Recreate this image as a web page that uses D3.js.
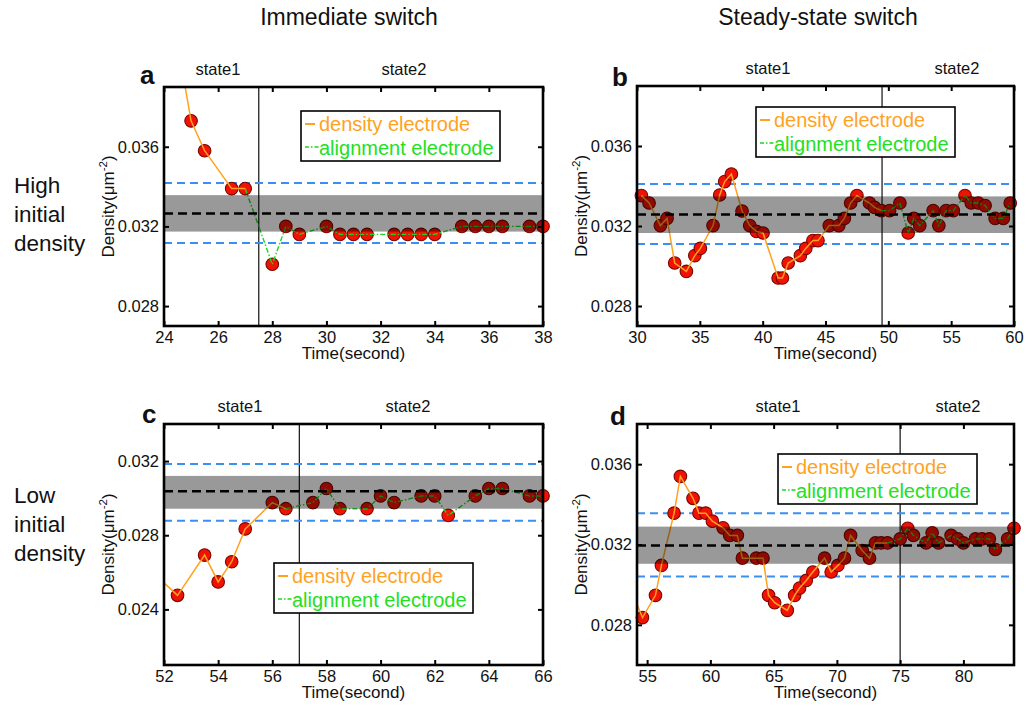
<!DOCTYPE html>
<html><head><meta charset="utf-8">
<script src="https://cdn.jsdelivr.net/npm/d3@7"></script>
<style>
body{margin:0;background:#fff}
svg{display:block;font-family:"Liberation Sans",Arial,Helvetica,sans-serif}
</style>
</head><body>
<svg id="fig" width="1029" height="707"></svg>
<script>
// ---------- text ----------
const colTitles = ["Immediate switch", "Steady-state switch"];
const rowTitles = [["High", "initial", "density"], ["Low", "initial", "density"]];
const stateLabels = ["state1", "state2"];
const legendLabels = ["density electrode", "alignment electrode"];
const xAxisTitle = "Time(second)";

// ---------- panel a: high density, immediate switch ----------
const aTime1 = [24.5, 25, 25.5, 26.5, 27];
const aDens1 = [0.0412, 0.0373, 0.0358, 0.0339, 0.0339];
const aTime2 = [28, 28.5, 29, 30, 30.5, 31, 31.5, 32.5, 33, 33.5, 34, 35, 35.5, 36, 36.5, 37.5, 38];
const aDens2 = [0.0301, 0.0320, 0.0316, 0.0320, 0.0316, 0.0316, 0.0316, 0.0316, 0.0316, 0.0316, 0.0316,
                0.0320, 0.0320, 0.0320, 0.0320, 0.0320, 0.0320];
const aSwitch = 27.5;
const aBand = [0.03174, 0.03357], aMean = 0.03265, aLimits = [0.03117, 0.03418];
const aXTicks = [24, 26, 28, 30, 32, 34, 36, 38];
const aYTicks = [0.028, 0.032, 0.036];

// ---------- panel b: high density, steady-state switch ----------
const bTime1 = [30.35, 30.96, 31.86, 32.39, 33.0, 33.93, 34.6, 35.04, 36.05, 36.58, 36.98, 37.51, 38.36, 38.97,
                39.5, 40.03, 41.23, 41.57, 42.03, 43.0, 43.43, 44.0, 44.4, 45.3, 46.06, 46.5, 47.0, 47.5, 48.5,
                48.9, 49.45];
const bDens1 = [0.03352, 0.03315, 0.03202, 0.03238, 0.03015, 0.02973, 0.03052, 0.03088, 0.03202, 0.03355,
                0.03422, 0.0346, 0.03275, 0.03202, 0.03173, 0.03165, 0.0294, 0.0294, 0.03015, 0.03052, 0.03088,
                0.03127, 0.03127, 0.03202, 0.03202, 0.03238, 0.03315, 0.03352, 0.03315, 0.03293, 0.03277];
const bTime2 = [50.1, 50.92, 51.58, 52.03, 52.5, 53.57, 54.02, 54.6, 55.17, 56.1, 56.6, 57.16, 57.7, 58.5, 59.15, 59.7];
const bDens2 = [0.03277, 0.03315, 0.03165, 0.03238, 0.03202, 0.03277, 0.03202, 0.03277, 0.03277, 0.03352,
                0.03315, 0.03315, 0.03302, 0.03238, 0.03238, 0.03315];
const bSwitch = 49.5;
const bBand = [0.03165, 0.03348], bMean = 0.03258, bLimits = [0.0311, 0.0341];
const bXTicks = [30, 35, 40, 45, 50, 55, 60];
const bYTicks = [0.028, 0.032, 0.036];

// ---------- panel c: low density, immediate switch ----------
const cTime1 = [51.5, 52.5, 53.5, 54, 54.5, 55, 56, 56.5];
const cDens1 = [0.0261, 0.02476, 0.02693, 0.02548, 0.02657, 0.02834, 0.02976, 0.02943];
const cTime2 = [57.5, 58, 58.5, 59.5, 60, 60.5, 61.5, 62, 62.5, 63.5, 64, 64.5, 65.5, 66];
const cDens2 = [0.02976, 0.03052, 0.02943, 0.02943, 0.03012, 0.02976, 0.03012, 0.03012, 0.02907, 0.03012,
                0.03052, 0.03052, 0.03012, 0.03012];
const cSwitch = 57;
const cBand = [0.02943, 0.0312], cMean = 0.03037, cLimits = [0.02878, 0.03184];
const cXTicks = [52, 54, 56, 58, 60, 62, 64, 66];
const cYTicks = [0.024, 0.028, 0.032];

// ---------- panel d: low density, steady-state switch ----------
const dTime1 = [54.0, 54.63, 55.66, 56.13, 57.13, 57.63, 58.63, 59.1, 59.63, 60.16, 61.0, 61.53, 62.13, 62.53,
                63.63, 64.16, 64.6, 65.08, 66.08, 66.66, 67.05, 67.58, 68.1, 69.03, 69.55, 70.08, 70.6, 71.08,
                72.0, 72.58, 73.05, 73.5, 74.0];
const dDens1 = [0.02935, 0.02836, 0.02947, 0.03096, 0.03356, 0.03539, 0.0343, 0.03356, 0.03356, 0.03316,
                0.03283, 0.03245, 0.03245, 0.03132, 0.03132, 0.03132, 0.02947, 0.0291, 0.02872, 0.02947,
                0.02983, 0.03021, 0.03063, 0.03132, 0.03063, 0.03096, 0.03132, 0.03245, 0.0317, 0.03132,
                0.03208, 0.03208, 0.03208];
const dTime2 = [75.0, 75.6, 76.05, 77.05, 77.53, 78.03, 79.03, 79.55, 80.0, 80.95, 81.47, 82.05, 82.53, 83.5, 84.0];
const dDens2 = [0.03228, 0.03281, 0.03245, 0.03208, 0.03258, 0.03208, 0.03245, 0.03228, 0.03208, 0.03228,
                0.03228, 0.03228, 0.03175, 0.03228, 0.03281];
const dSwitch = 75;
const dBand = [0.03104, 0.03289], dMean = 0.03195, dLimits = [0.03041, 0.03356];
const dXTicks = [55, 60, 65, 70, 75, 80];
const dYTicks = [0.028, 0.032, 0.036];

// ---------- colours ----------
const ORANGE = "#ffa21f", GREEN = "#1fd51f", GREEN_TXT = "#22e022", BLUE = "#3b8ff2";
const MARK_FILL = "#f01205", MARK_EDGE = "#7a0800";

// ---------- panels (data + layout) ----------
const panels = [
  {id: "a", t1: aTime1, v1: aDens1, t2: aTime2, v2: aDens2, sw: aSwitch, band: aBand, mean: aMean, lim: aLimits,
   xd: [24, 38], yd: [0.027, 0.039], xt: aXTicks, yt: aYTicks,
   box: [164, 543, 87, 326], letter: [140, 84], states: [218, 404], legend: [301, 111], ylab: 114},
  {id: "b", t1: bTime1, v1: bDens1, t2: bTime2, v2: bDens2, sw: bSwitch, band: bBand, mean: bMean, lim: bLimits,
   xd: [30, 60], yd: [0.027, 0.039], xt: bXTicks, yt: bYTicks,
   box: [637, 1014, 86, 326], letter: [612, 86], states: [768, 957], legend: [756, 107], ylab: 587},
  {id: "c", t1: cTime1, v1: cDens1, t2: cTime2, v2: cDens2, sw: cSwitch, band: cBand, mean: cMean, lim: cLimits,
   xd: [52, 66], yd: [0.021, 0.034], xt: cXTicks, yt: cYTicks,
   box: [164, 543, 424, 665], letter: [142, 423], states: [240, 408], legend: [274, 563], ylab: 114},
  {id: "d", t1: dTime1, v1: dDens1, t2: dTime2, v2: dDens2, sw: dSwitch, band: dBand, mean: dMean, lim: dLimits,
   xd: [54.2, 84], yd: [0.026, 0.038], xt: dXTicks, yt: dYTicks,
   box: [637, 1014, 424, 665], letter: [610, 425], states: [778, 958], legend: [778, 454], ylab: 587}
];

const svg = d3.select("#fig");

// column and row headings
svg.selectAll("text.col").data(colTitles).join("text")
  .attr("class", "col")
  .attr("x", (d, i) => [349, 818][i]).attr("y", 25)
  .attr("text-anchor", "middle").attr("font-size", 23).attr("fill", "#111")
  .text(d => d);

rowTitles.forEach((lines, r) => {
  svg.append("text")
    .attr("x", 14).attr("y", [193, 503][r])
    .attr("font-size", 22.5).attr("fill", "#111")
    .selectAll("tspan").data(lines).join("tspan")
    .attr("x", 14).attr("dy", (d, i) => i === 0 ? 0 : 29)
    .text(d => d);
});

panels.forEach(p => {
  const [x0, x1, y0, y1] = p.box;
  const x = d3.scaleLinear().domain(p.xd).range([x0, x1]);
  const y = d3.scaleLinear().domain(p.yd).range([y1, y0]);
  const g = svg.append("g");

  const clipId = "clip-" + p.id;
  g.append("clipPath").attr("id", clipId)
    .append("rect").attr("x", x0).attr("y", y0).attr("width", x1 - x0).attr("height", y1 - y0);
  // layers: reference lines, markers, traces + band on top
  const back = g.append("g").attr("clip-path", `url(#${clipId})`);
  const markLayer = g.append("g");
  const front = g.append("g").attr("clip-path", `url(#${clipId})`);

  // switch moment
  back.append("line")
    .attr("x1", x(p.sw)).attr("x2", x(p.sw)).attr("y1", y0).attr("y2", y1)
    .attr("stroke", "#222").attr("stroke-width", 1.3);

  // tolerance limits
  back.selectAll("line.lim").data(p.lim).join("line")
    .attr("class", "lim")
    .attr("x1", x0).attr("x2", x1).attr("y1", d => y(d)).attr("y2", d => y(d))
    .attr("stroke", BLUE).attr("stroke-width", 2).attr("stroke-dasharray", "8,5");

  // markers
  const pts = p.t1.map((t, i) => [t, p.v1[i]]).concat(p.t2.map((t, i) => [t, p.v2[i]]))
    .filter(d => d[0] >= p.xd[0] && d[0] <= p.xd[1] && d[1] >= p.yd[0] && d[1] <= p.yd[1]);
  markLayer.selectAll("circle").data(pts).join("circle")
    .attr("cx", d => x(d[0])).attr("cy", d => y(d[1])).attr("r", 6.3)
    .attr("fill", MARK_FILL).attr("stroke", MARK_EDGE).attr("stroke-width", 1.1);

  // traces
  const line = d3.line().x(d => x(d[0])).y(d => y(d[1]));
  const s1 = p.t1.map((t, i) => [t, p.v1[i]]);
  const s2 = [s1[s1.length - 1]].concat(p.t2.map((t, i) => [t, p.v2[i]]));
  front.append("path").datum(s1).attr("d", line)
    .attr("fill", "none").attr("stroke", ORANGE).attr("stroke-width", 1.5);
  front.append("path").datum(s2).attr("d", line)
    .attr("fill", "none").attr("stroke", GREEN).attr("stroke-width", 1.4)
    .attr("stroke-dasharray", "5,2,1.5,2");

  // mean ± sd band (translucent, drawn over the data)
  front.append("rect")
    .attr("x", x0).attr("width", x1 - x0)
    .attr("y", y(p.band[1])).attr("height", y(p.band[0]) - y(p.band[1]))
    .attr("fill", "#000").attr("fill-opacity", 0.4);
  front.append("line")
    .attr("x1", x0).attr("x2", x1).attr("y1", y(p.mean)).attr("y2", y(p.mean))
    .attr("stroke", "#000").attr("stroke-width", 2.5).attr("stroke-dasharray", "9,5");

  // axes (ticks inward on all four sides)
  const tl = 5;
  const fmt = d3.format(".3f");
  const axB = g.append("g").attr("transform", `translate(0,${y1})`)
    .call(d3.axisBottom(x).tickValues(p.xt).tickSize(-tl).tickPadding(5).tickFormat(d3.format("d")));
  const axT = g.append("g").attr("transform", `translate(0,${y0})`)
    .call(d3.axisTop(x).tickValues(p.xt).tickSize(-tl).tickFormat(""));
  const axL = g.append("g").attr("transform", `translate(${x0},0)`)
    .call(d3.axisLeft(y).tickValues(p.yt).tickSize(-tl).tickPadding(4).tickFormat(fmt));
  const axR = g.append("g").attr("transform", `translate(${x1},0)`)
    .call(d3.axisRight(y).tickValues(p.yt).tickSize(-tl).tickFormat(""));
  [axB, axT, axL, axR].forEach(a => {
    a.select(".domain").remove();
    a.selectAll(".tick line").attr("stroke", "#000").attr("stroke-width", 2);
    a.selectAll("text").attr("font-size", 16.5).attr("fill", "#111")
      .attr("font-family", "Liberation Sans, Arial, sans-serif");
  });
  axB.selectAll("text").attr("dy", "0.71em");
  axL.selectAll("text").attr("dx", "-1");

  // frame
  g.append("rect").attr("x", x0).attr("y", y0).attr("width", x1 - x0).attr("height", y1 - y0)
    .attr("fill", "none").attr("stroke", "#000").attr("stroke-width", 2.6);

  // axis titles
  g.append("text").attr("x", (x0 + x1) / 2).attr("y", y1 + 33)
    .attr("text-anchor", "middle").attr("font-size", 17).attr("fill", "#111")
    .text(xAxisTitle);
  const yl = g.append("text")
    .attr("transform", `translate(${p.ylab},${(y0 + y1) / 2}) rotate(-90)`)
    .attr("text-anchor", "middle").attr("font-size", 17).attr("fill", "#111");
  yl.append("tspan").text("Density(\u03bcm");
  yl.append("tspan").attr("dy", -7).attr("font-size", 11.5).text("-2");
  yl.append("tspan").attr("dy", 7).text(")");

  // panel letter and state labels
  g.append("text").attr("x", p.letter[0]).attr("y", p.letter[1])
    .attr("font-size", 26).attr("font-weight", "bold").attr("fill", "#111").text(p.id);
  g.selectAll("text.state").data(stateLabels).join("text")
    .attr("class", "state")
    .attr("x", (d, i) => p.states[i]).attr("y", y0 - 12.5)
    .attr("text-anchor", "middle").attr("font-size", 16.5).attr("fill", "#111")
    .text(d => d);

  // legend
  const [lx, ly] = p.legend;
  const lg = g.append("g").attr("transform", `translate(${lx},${ly})`);
  lg.append("rect").attr("width", 199).attr("height", 50)
    .attr("fill", "#fff").attr("stroke", "#000").attr("stroke-width", 1.6);
  lg.append("line").attr("x1", 4).attr("x2", 14).attr("y1", 13).attr("y2", 13)
    .attr("stroke", ORANGE).attr("stroke-width", 2);
  lg.append("line").attr("x1", 4).attr("x2", 18).attr("y1", 36).attr("y2", 36)
    .attr("stroke", GREEN).attr("stroke-width", 1.6).attr("stroke-dasharray", "4,2,1.5,2");
  lg.selectAll("text").data(legendLabels).join("text")
    .attr("x", 18).attr("y", (d, i) => [20, 44][i])
    .attr("font-size", 20).attr("fill", (d, i) => i === 0 ? ORANGE : GREEN_TXT)
    .text(d => d);
});
</script>
</body></html>
